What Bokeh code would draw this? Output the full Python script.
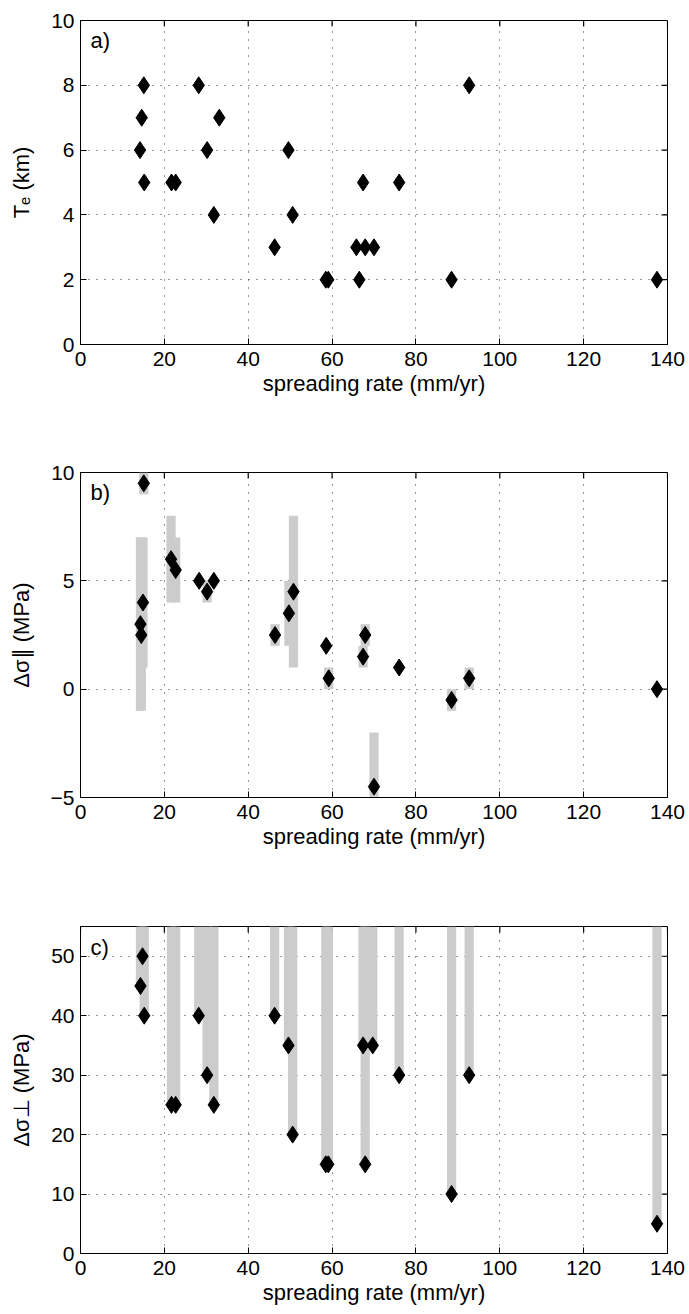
import math
from bokeh.plotting import figure
from bokeh.models import Range1d, FixedTicker, Label
from bokeh.layouts import column
from bokeh.embed import file_html
from bokeh.resources import INLINE

# ---------------- data ----------------
# panel a: elastic thickness vs spreading rate
a_rate = [15.1, 28.2, 92.7, 14.6, 33.1, 14.2, 30.2, 49.6, 15.2, 21.7, 22.7, 67.4,
          76.0, 31.8, 50.6, 46.3, 65.8, 67.9, 70.0, 58.5, 59.1, 66.5, 88.5, 137.5]
a_te = [8, 8, 8, 7, 7, 6, 6, 6, 5, 5, 5, 5, 5, 4, 4, 3, 3, 3, 3, 2, 2, 2, 2, 2]

# panel b: delta sigma parallel, with ranges
b_rate = [15.1, 14.3, 14.5, 14.9, 21.6, 22.7, 28.3, 30.2, 31.8, 46.4, 49.7, 50.8,
          58.6, 59.2, 67.4, 67.9, 70.0, 76.0, 88.5, 92.7, 137.5]
b_ds = [9.5, 3, 2.5, 4, 6, 5.5, 5, 4.5, 5, 2.5, 3.5, 4.5,
        2, 0.5, 1.5, 2.5, -4.5, 1, -0.5, 0.5, 0]
b_lo = [9, -1, -1, 1, 4, 4, 5, 4, 5, 2, 2, 1,
        2, 0, 1, 2, -5, 1, -1, 0, 0]
b_hi = [10, 7, 7, 7, 8, 7, 5, 5, 5, 3, 5, 8,
        2, 1, 2, 3, -2, 1, 0, 1, 0]

# panel c: delta sigma perpendicular, with ranges (upper ends clipped at top)
c_rate = [14.3, 14.8, 15.2, 21.7, 22.7, 28.2, 30.2, 31.8, 46.3, 49.6, 50.6,
          58.5, 59.1, 67.4, 69.7, 67.9, 76.0, 88.5, 92.7, 137.5]
c_ds = [45, 50, 40, 25, 25, 40, 30, 25, 40, 35, 20,
        15, 15, 35, 35, 15, 30, 10, 30, 5]
c_hi = [55, 55, 55, 55, 55, 55, 55, 55, 55, 55, 55,
        55, 55, 55, 55, 55, 55, 55, 55, 55]

x_ticks = [0, 20, 40, 60, 80, 100, 120, 140]
a_ticks = [0, 2, 4, 6, 8, 10]
b_ticks = [-5, 0, 5, 10]
c_ticks = [0, 10, 20, 30, 40, 50]

x_title = "spreading rate (mm/yr)"
a_title = "T\u2091 (km)"
b_title = "\u0394\u03c3\u2225 (MPa)"
c_title = "\u0394\u03c3\u22a5 (MPa)"

FONT = "Liberation Sans"
FS = "21px"
FS_LAB = "22px"
GRAY = "#cccccc"
FRAME_W = 587


def make_fig(yr, yticks, frame_h, top, bottom, panel, ytitle):
    p = figure(frame_width=FRAME_W, frame_height=frame_h,
               x_range=Range1d(0, 140), y_range=Range1d(*yr),
               min_border_left=80, min_border_right=22,
               min_border_top=top, min_border_bottom=bottom,
               output_backend="svg", toolbar_location=None,
               background_fill_color="white", border_fill_color="white")
    p.outline_line_color = "black"
    p.outline_line_width = 1
    p.xaxis.ticker = FixedTicker(ticks=x_ticks)
    p.yaxis.ticker = FixedTicker(ticks=yticks)
    for ax in (p.xaxis[0], p.yaxis[0]):
        ax.major_tick_in = 6
        ax.major_tick_out = 0
        ax.minor_tick_line_color = None
        ax.axis_line_color = "black"
        ax.major_tick_line_color = "black"
        ax.major_label_text_font = FONT
        ax.major_label_text_font_size = FS
        ax.major_label_text_color = "black"
        ax.major_label_standoff = 7
        ax.axis_label_text_font = FONT
        ax.axis_label_text_font_size = FS_LAB
        ax.axis_label_text_font_style = "normal"
        ax.axis_label_text_color = "black"
    p.yaxis.major_label_standoff = 6
    p.xaxis.axis_label = x_title
    p.xaxis.axis_label_standoff = 2
    p.yaxis.axis_label = ytitle
    p.yaxis.axis_label_standoff = 14
    # inward box ticks on the top and right edges
    p.ray(x=x_ticks, y=[yr[1]] * len(x_ticks), length=6, length_units="screen",
          angle=-math.pi / 2, line_color="black", line_width=1.2)
    p.ray(x=[140] * len(yticks), y=yticks, length=6, length_units="screen",
          angle=math.pi, line_color="black", line_width=1.2)
    for g in (p.xgrid[0], p.ygrid[0]):
        g.grid_line_color = "black"
        g.grid_line_alpha = 0.8
        g.grid_line_dash = "1 7"
        g.grid_line_width = 1
    p.add_layout(Label(x=2.4, y=yr[1] - (yr[1] - yr[0]) * 0.063, text=panel,
                       text_font=FONT, text_font_size=FS_LAB, text_color="black",
                       text_baseline="middle", text_align="left"))
    return p


# ---- panel a ----
pa = make_fig((0, 10), a_ticks, 324, 20, 108, "a)", a_title)
pa.scatter(a_rate, a_te, marker="diamond", size=17, color="black")

# ---- panel b ----
pb = make_fig((-5, 10), b_ticks, 325, 20, 109, "b)", b_title)
pb.vbar(x=b_rate, bottom=b_lo, top=b_hi, width=2.2, color=GRAY, line_color=None)
pb.scatter(b_rate, b_ds, marker="diamond", size=17, color="black")

# ---- panel c ----
pc = make_fig((0, 55), c_ticks, 327, 20, 61, "c)", c_title)
pc.vbar(x=c_rate, bottom=c_ds, top=c_hi, width=2.2, color=GRAY, line_color=None)
pc.scatter(c_rate, c_ds, marker="diamond", size=17, color="black")

layout = column(pa, pb, pc, spacing=0)
open("out.html", "w").write(file_html(layout, INLINE))
